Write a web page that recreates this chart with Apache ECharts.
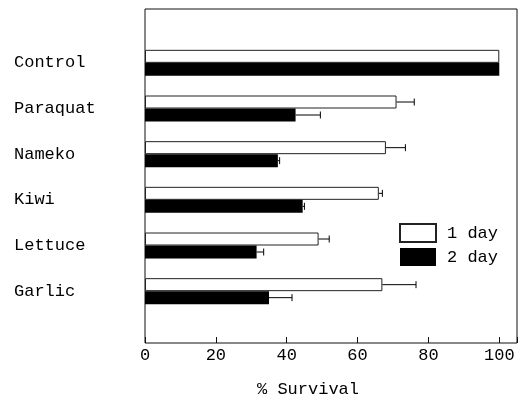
<!DOCTYPE html>
<html>
<head>
<meta charset="utf-8">
<script src="https://cdn.jsdelivr.net/npm/echarts@6/dist/echarts.min.js"></script>
<style>
  html, body { margin: 0; padding: 0; background: #fff; }
  #chart { width: 524px; height: 403px; }
</style>
</head>
<body>
<div id="chart"></div>
<script>
// data
const categories = ['Control', 'Paraquat', 'Nameko', 'Kiwi', 'Lettuce', 'Garlic']
const day1 = [100, 71, 68, 66, 49, 67]
const day1Err = [0, 5, 5.5, 1, 3, 9.5]
const day2 = [100, 42.5, 37.5, 44.5, 31.5, 35]
const day2Err = [0, 7, 0.5, 0.5, 2, 6.5]
const xTicks = [0, 20, 40, 60, 80, 100]

const font = '"Liberation Mono", "DejaVu Sans Mono", monospace'
const FS = 17
const BAR_W = 13

// error bar data: [category index, value, value + error]
const errData = (vals, errs) => vals.map((v, i) => [i, v, v + errs[i]])

// draws a whisker from the bar end with a small cap
const errBar = (shift) => (params, api) => {
  const err = api.value(2) - api.value(1)
  if (err <= 0) return null
  const start = api.coord([api.value(1), api.value(0)])
  const end = api.coord([api.value(2), api.value(0)])
  const y = start[1] + shift
  return {
    type: 'group',
    children: [
      { type: 'line', shape: { x1: start[0], y1: y, x2: end[0], y2: y }, style: { stroke: '#000', lineWidth: 1 } },
      { type: 'line', shape: { x1: end[0], y1: y - 3.5, x2: end[0], y2: y + 3.5 }, style: { stroke: '#000', lineWidth: 1 } }
    ]
  }
}

const myChart = echarts.init(document.getElementById('chart'))

const option = {
  animation: false,
  backgroundColor: '#fff',
  textStyle: { fontFamily: font, color: '#000' },
  legend: {
    orient: 'vertical',
    left: 399,
    top: 223,
    padding: 0,
    itemWidth: 36,
    itemHeight: 18,
    itemGap: 5,
    icon: 'rect',
    textStyle: { fontFamily: font, fontSize: FS, color: '#000', padding: [0, 0, 0, 6] },
    data: ['1 day', '2 day']
  },
  grid: [
    // outer frame with the value axis
    { left: 145, right: 7, top: 9, bottom: 60, show: true, borderColor: '#111', borderWidth: 1, backgroundColor: 'transparent' },
    // bars, padded inside the frame
    { left: 145, right: 7, top: 40, bottom: 89 }
  ],
  xAxis: [
    {
      gridIndex: 0,
      type: 'value',
      min: 0,
      max: 105,
      interval: 20,
      axisLine: { show: false },
      axisTick: { show: true, inside: true, length: 6, lineStyle: { color: '#111' } },
      splitLine: { show: false },
      axisLabel: {
        margin: 4,
        fontFamily: font,
        fontSize: FS,
        color: '#000',
        formatter: (v) => (xTicks.includes(v) ? String(v) : '')
      },
      name: '% Survival',
      nameLocation: 'middle',
      nameGap: 38,
      nameTextStyle: { fontFamily: font, fontSize: FS, color: '#000', padding: [0, 46, 0, 0] }
    },
    { gridIndex: 1, type: 'value', min: 0, max: 105, show: false }
  ],
  yAxis: [
    { gridIndex: 0, type: 'value', show: false },
    {
      gridIndex: 1,
      type: 'category',
      inverse: true,
      data: categories,
      axisLine: { show: false },
      axisTick: { show: false },
      axisLabel: { align: 'left', margin: 131, fontFamily: font, fontSize: FS, color: '#000' }
    }
  ],
  series: [
    {
      name: '1 day',
      type: 'bar',
      xAxisIndex: 1,
      yAxisIndex: 1,
      barWidth: BAR_W,
      barGap: '0%',
      itemStyle: { color: '#fff', borderColor: '#222', borderWidth: 1 },
      data: day1
    },
    {
      name: '2 day',
      type: 'bar',
      xAxisIndex: 1,
      yAxisIndex: 1,
      barWidth: BAR_W,
      barGap: '0%',
      itemStyle: { color: '#000' },
      data: day2
    },
    {
      type: 'custom',
      xAxisIndex: 1,
      yAxisIndex: 1,
      encode: { x: [1, 2], y: 0 },
      renderItem: errBar(-BAR_W / 2),
      data: errData(day1, day1Err),
      z: 3
    },
    {
      type: 'custom',
      xAxisIndex: 1,
      yAxisIndex: 1,
      encode: { x: [1, 2], y: 0 },
      renderItem: errBar(BAR_W / 2),
      data: errData(day2, day2Err),
      z: 3
    }
  ]
}
myChart.setOption(option)
</script>
</body>
</html>
